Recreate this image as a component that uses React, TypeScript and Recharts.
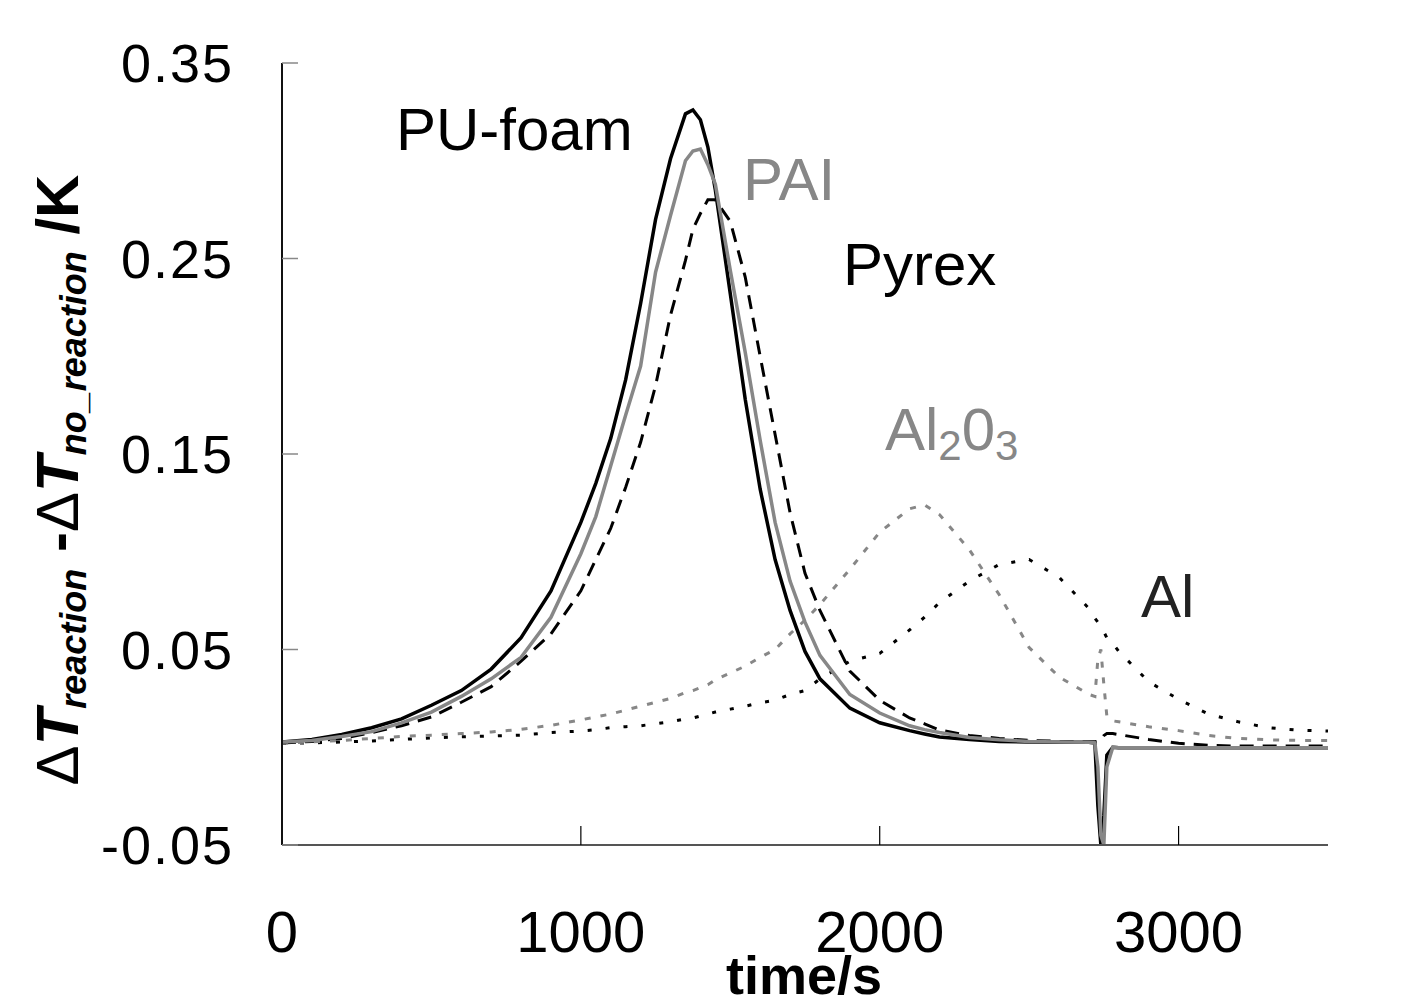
import React from "react";
import { LineChart, Line, XAxis, YAxis, Label } from "recharts";

const FONT = '"Liberation Sans", Arial, Helvetica, sans-serif';
const GREY = "#878787";

// time axis (s)
const times = [
  0, 100, 200, 300, 400, 500, 600, 700, 800, 900,
  1000, 1050, 1100, 1150, 1200, 1250, 1300, 1350, 1375, 1400,
  1425, 1450, 1500, 1550, 1600, 1650, 1700, 1750, 1800, 1900,
  2000, 2100, 2150, 2200, 2300, 2400, 2500, 2600, 2700, 2720,
  2730, 2740, 2750, 2760, 2780, 2800, 2900, 3000, 3100, 3200,
  3300, 3400, 3500,
];

const puFoam = [
  0.0027, 0.004, 0.0065, 0.01, 0.0145, 0.0215, 0.029, 0.04, 0.056, 0.08,
  0.115, 0.135, 0.158, 0.188, 0.227, 0.27, 0.301, 0.324, 0.326, 0.321,
  0.307, 0.285, 0.232, 0.178, 0.132, 0.096, 0.07, 0.049, 0.035, 0.02,
  0.0125, 0.0085, 0.0068, 0.0052, 0.004, 0.003, 0.0027, 0.0025, 0.0025, 0.0022,
  -0.03, -0.05, -0.035, -0.004, 0, -0.0003, -0.0003, -0.0003, -0.0003, -0.0003,
  -0.0003, -0.0003, -0.0003,
];

const pai = [
  0.0027, 0.0035, 0.0055, 0.008, 0.0125, 0.018, 0.026, 0.035, 0.046, 0.0665,
  0.099, 0.118, 0.144, 0.17, 0.195, 0.243, 0.272, 0.3, 0.305, 0.306,
  0.298, 0.288, 0.244, 0.202, 0.157, 0.115, 0.085, 0.064, 0.047, 0.027,
  0.0175, 0.011, 0.009, 0.0075, 0.005, 0.0038, 0.003, 0.0027, 0.0025, 0.0022,
  -0.01, -0.045, -0.05, -0.01, 0, -0.0003, -0.0003, -0.0003, -0.0003, -0.0003,
  -0.0003, -0.0003, -0.0003,
];

const pyrex = [
  0.0022, 0.003, 0.0045, 0.0075, 0.011, 0.0155, 0.023, 0.031, 0.044, 0.058,
  0.08, 0.096, 0.112, 0.133, 0.156, 0.185, 0.221, 0.249, 0.265, 0.273,
  0.28, 0.28, 0.269, 0.2405, 0.2, 0.16, 0.12, 0.089, 0.07, 0.039,
  0.024, 0.015, 0.012, 0.0088, 0.006, 0.0045, 0.0035, 0.003, 0.0028, 0.0028,
  0.003, 0.004, 0.006, 0.007, 0.007, 0.0065, 0.004, 0.002, 0.001, 0.0006,
  0.0006, 0.0006, 0.0006,
];

const al2o3 = [
  0.002, 0.0028, 0.0035, 0.0045, 0.0055, 0.0062, 0.007, 0.0078, 0.0092, 0.0112,
  0.014, 0.0155, 0.017, 0.019, 0.021, 0.023, 0.025, 0.028, 0.029, 0.0305,
  0.032, 0.0345, 0.038, 0.0415, 0.046, 0.05, 0.058, 0.065, 0.073, 0.091,
  0.11, 0.122, 0.124, 0.119, 0.101, 0.078, 0.051, 0.036, 0.027, 0.026,
  0.045, 0.05, 0.032, 0.016, 0.0135, 0.013, 0.0105, 0.0085, 0.006, 0.0045,
  0.0038, 0.0035, 0.0035,
];

const al = [
  0.002, 0.0022, 0.0027, 0.0032, 0.004, 0.0048, 0.0053, 0.0058, 0.0062, 0.0075,
  0.0083, 0.009, 0.01, 0.0105, 0.011, 0.012, 0.013, 0.0145, 0.015, 0.016,
  0.017, 0.018, 0.0195, 0.021, 0.0228, 0.024, 0.027, 0.029, 0.035, 0.044,
  0.048, 0.06, 0.0665, 0.074, 0.085, 0.0935, 0.096, 0.087, 0.071, 0.066,
  0.064, 0.061, 0.059, 0.056, 0.053, 0.049, 0.0335, 0.0245, 0.017, 0.013,
  0.01, 0.0087, 0.0083,
];

const xTicks = [0, 1000, 2000, 3000];
const yTicks = [-0.05, 0.05, 0.15, 0.25, 0.35];

const data = times.map((t, i) => ({
  t,
  pu: puFoam[i],
  pai: pai[i],
  pyrex: pyrex[i],
  al2o3: al2o3[i],
  al: al[i],
}));

// y-axis title plus curve annotations (drawn in svg pixel space)
function Overlay() {
  return (
    <g fontFamily={FONT}>
      <text
        transform="translate(78,480) rotate(-90)"
        textAnchor="middle"
        fontWeight="bold"
        fontSize={60}
        fill="#000"
      >
        <tspan fontWeight="normal">Δ</tspan>
        <tspan fontStyle="italic">T</tspan>
        <tspan fontStyle="italic" fontSize={36} dy={8}>reaction</tspan>
        <tspan dy={-8}> -</tspan>
        <tspan fontWeight="normal">Δ</tspan>
        <tspan fontStyle="italic">T</tspan>
        <tspan fontStyle="italic" fontSize={36} dy={8}>no_reaction</tspan>
        <tspan dy={-8}> /K</tspan>
      </text>
      <text x={396} y={150} fontSize={60} fill="#000">PU-foam</text>
      <text x={743} y={200} fontSize={60} fill={GREY}>PAI</text>
      <text x={843} y={285} fontSize={60} fill="#000">Pyrex</text>
      <text x={885} y={450} fontSize={60} fill={GREY}>
        <tspan>Al</tspan>
        <tspan fontSize={42} dy={10}>2</tspan>
        <tspan dy={-10}>0</tspan>
        <tspan fontSize={42} dy={10}>3</tspan>
      </text>
      <text x={1141} y={617} fontSize={60} fill="#222">Al</text>
    </g>
  );
}

function XTitle() {
  return (
    <text x={804} y={994} textAnchor="middle" fontFamily={FONT} fontWeight="bold" fontSize={54} fill="#000">
      time/s
    </text>
  );
}

export default function App() {
  return (
    <div style={{ position: "absolute", left: 0, top: 0, width: 1411, height: 1001, background: "#fff" }}>
      <LineChart width={1411} height={1001} data={data} margin={{ top: 63, right: 83, bottom: 0, left: 0 }}>
        <XAxis
          dataKey="t"
          type="number"
          domain={[0, 3500]}
          ticks={xTicks}
          allowDataOverflow
          height={156}
          tickSize={-19}
          tickMargin={85}
          tickLine={{ stroke: "#000", strokeWidth: 1.2 }}
          axisLine={{ stroke: "#555", strokeWidth: 2 }}
          tick={{ fontSize: 58, fill: "#000", fontFamily: FONT }}
        >
          <Label content={() => <XTitle />} />
        </XAxis>
        <XAxis
          xAxisId="top"
          orientation="top"
          dataKey="t"
          type="number"
          domain={[0, 3500]}
          height={0}
          tick={false}
          tickLine={false}
          axisLine={{ stroke: "#999", strokeWidth: 2 }}
        />
        <YAxis
          domain={[-0.05, 0.35]}
          ticks={yTicks}
          allowDataOverflow
          width={282}
          tickSize={-16}
          tickMargin={64}
          tickFormatter={(v: number) => v.toFixed(2)}
          tickLine={{ stroke: "#888", strokeWidth: 1.5 }}
          axisLine={{ stroke: "#111", strokeWidth: 2 }}
          tick={{ fontSize: 54, fill: "#000", fontFamily: FONT, letterSpacing: 2 }}
        >
          <Label content={() => <Overlay />} />
        </YAxis>
        <YAxis
          yAxisId="right"
          orientation="right"
          domain={[-0.05, 0.35]}
          width={0}
          tick={false}
          tickLine={false}
          axisLine={{ stroke: "#333", strokeWidth: 2 }}
        />
        <Line dataKey="pyrex" stroke="#000" strokeWidth={3} strokeDasharray="14 9" dot={false} isAnimationActive={false} />
        <Line dataKey="al" stroke="#000" strokeWidth={3} strokeDasharray="4 14" dot={false} isAnimationActive={false} />
        <Line dataKey="al2o3" stroke={GREY} strokeWidth={3} strokeDasharray="6 10" dot={false} isAnimationActive={false} />
        <Line dataKey="pu" stroke="#000" strokeWidth={3.5} dot={false} isAnimationActive={false} />
        <Line dataKey="pai" stroke={GREY} strokeWidth={3.5} dot={false} isAnimationActive={false} />
      </LineChart>
    </div>
  );
}
